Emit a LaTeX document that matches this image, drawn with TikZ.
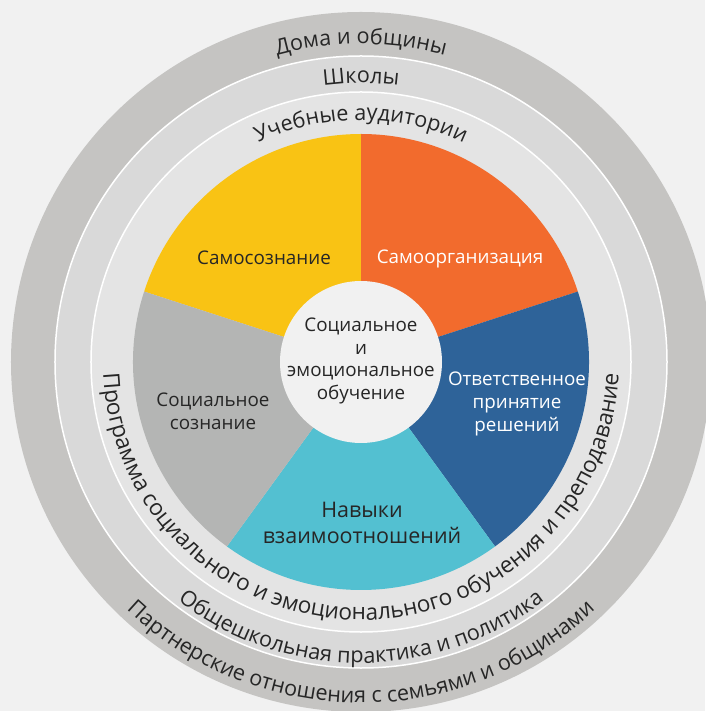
\documentclass[tikz,border=0pt]{standalone}
\usepackage{fontspec}
\setmainfont{Open Sans}
\usetikzlibrary{decorations.text}
\definecolor{bgcol}{HTML}{F1F1F1}
\definecolor{ringout}{HTML}{C5C4C2}
\definecolor{ringmid}{HTML}{D9D9D9}
\definecolor{ringin}{HTML}{E4E4E4}
\definecolor{segyellow}{HTML}{F9C314}
\definecolor{segorange}{HTML}{F26B2D}
\definecolor{segblue}{HTML}{2E6399}
\definecolor{segcyan}{HTML}{53C0D1}
\definecolor{seggray}{HTML}{B4B5B4}
\definecolor{txtdark}{HTML}{262626}
\newcommand\ringfont{\fontsize{21.6}{26}\selectfont}
\newcommand\ringfontbig{\fontsize{22.6}{27}\selectfont}
\tikzset{
  ringtext/.style={decorate, decoration={text along path, text align=center,
      text color=txtdark, text={|\ringfont|#1}}},
  ringtextbig/.style={decorate, decoration={text along path, text align=center,
      text color=txtdark, text={|\ringfontbig|#1}}},
  seglabel/.style={align=center, text=txtdark, font=\fontsize{18.8}{22.6}\selectfont},
  seglight/.style={seglabel, text=white}
}
\begin{document}
\begin{tikzpicture}[x=1pt, y=1pt, line join=round]
	\fill[bgcol] (-361,-349) rectangle (344,362);
	\useasboundingbox (-361,-349) rectangle (344,362);
	% rings
	\fill[ringout] (0,0) circle (350);
	\fill[ringmid] (0,0) circle (306);
	\fill[ringin] (0,0) circle (270);
	\draw[white, line width=1.5pt] (0,0) circle (306);
	\draw[white, line width=1.5pt] (0,0) circle (270);
	% pie
	\foreach \a/\c in {90/segyellow, 18/segorange, -54/segblue, -126/segcyan, 162/seggray}
		\fill[\c] (0,0) -- (\a:228) arc[start angle=\a, end angle=\a+72, radius=228] -- cycle;
	\fill[bgcol] (0,0) circle (81);
	% ring labels
	\path[ringtext={Дома и общины}] (180:318) arc[start angle=180, end angle=0, radius=318];
	\path[ringtext={Школы}] (180:279) arc[start angle=180, end angle=0, radius=279];
	\path[ringtext={Учебные аудитории}] (180:242) arc[start angle=180, end angle=0, radius=242];
	\path[ringtextbig={Программа социального и эмоционального обучения и преподавание}] (170:258) arc[start angle=170, end angle=370, radius=258];
	\path[ringtext={Общешкольная практика и политика}] (170:301) arc[start angle=170, end angle=370, radius=301];
	\path[ringtext={Партнерские отношения с семьями и общинами}] (170:341) arc[start angle=170, end angle=370, radius=341];
	% sector labels
	\node[seglabel] (selfaware) at (-97,104) {Самосознание};
	\node[seglight] (selfmanage) at (99,103) {Самоорганизация};
	\node[seglabel] (socialaware) at (-148,-49) {Социальное\\сознание};
	\node[seglight] (decision) at (156,-42) {Ответственное\\принятие\\решений};
	\node[seglabel, font=\fontsize{21.5}{26}\selectfont] (relation) at (1,-161) {Навыки\\взаимоотношений};
	\node[seglabel] (sel) at (0,1) {Социальное\\и\\эмоциональное\\обучение};
\end{tikzpicture}
\end{document}
